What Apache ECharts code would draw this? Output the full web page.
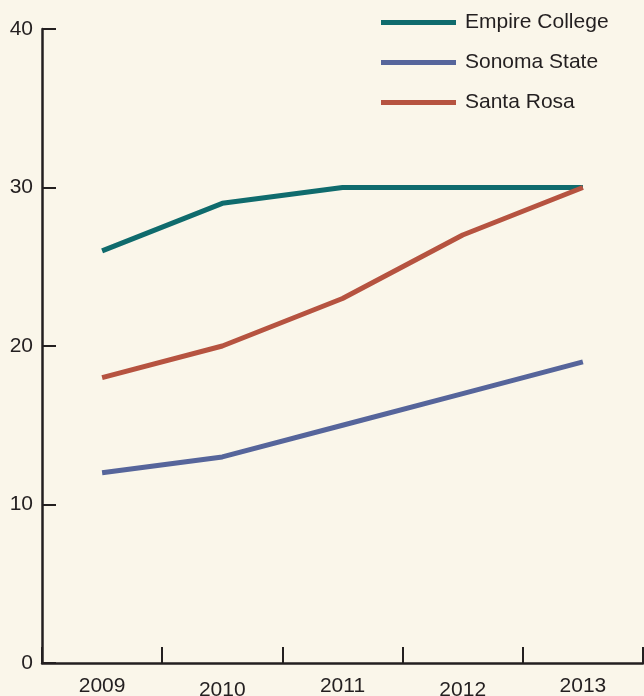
<!DOCTYPE html>
<html>
<head>
<meta charset="utf-8">
<script src="https://cdn.jsdelivr.net/npm/echarts@6/dist/echarts.min.js"></script>
<style>
html,body{margin:0;padding:0;background:#faf6ea;}
#c{width:644px;height:696px;}
</style>
</head>
<body>
<div id="c"></div>
<script>
const years = ['2009', '2010', '2011', '2012', '2013'];
const empireCollege = [26, 29, 30, 30, 30];
const sonomaState = [12, 13, 15, 17, 19];
const santaRosa = [18, 20, 23, 27, 30];
const yTicks = [0, 10, 20, 30, 40];

const chart = echarts.init(document.getElementById('c'), null, {renderer: 'canvas'});
const axisColor = '#231f20';
const font = 'Liberation Sans, Arial, Helvetica, sans-serif';
chart.setOption({
  animation: false,
  backgroundColor: '#faf6ea',
  textStyle: {fontFamily: font},
  grid: {left: 42, right: 1, top: 29, bottom: 33, containLabel: false, outerBoundsMode: 'none'},
  legend: {
    orient: 'vertical',
    left: 376,
    top: 7,
    itemWidth: 75,
    itemHeight: 5,
    itemGap: 19,
    icon: 'rect',
    textStyle: {fontFamily: font, fontSize: 21, color: '#231f20', padding: [0, 0, 0, 4]},
    data: ['Empire College', 'Sonoma State', 'Santa Rosa']
  },
  xAxis: {
    type: 'category',
    data: years,
    boundaryGap: true,
    axisLine: {show: true, lineStyle: {color: axisColor, width: 2.5}},
    axisTick: {show: true, inside: true, length: 16, lineStyle: {color: axisColor, width: 2}},
    axisLabel: {
      margin: 13,
      color: '#231f20',
      fontSize: 21,
      fontFamily: font,
      formatter: function (v, i) { return (i % 2 === 1) ? '{lo|' + v + '}' : '{hi|' + v + '}'; },
      rich: {
        hi: {fontSize: 21, fontFamily: font, color: '#231f20', padding: [0, 0, 0, 0]},
        lo: {fontSize: 21, fontFamily: font, color: '#231f20', padding: [4, 0, 0, 0]}
      }
    },
    splitLine: {show: false}
  },
  yAxis: {
    type: 'value',
    min: yTicks[0],
    max: yTicks[yTicks.length - 1],
    interval: 10,
    axisLine: {show: true, lineStyle: {color: axisColor, width: 2.5}},
    axisTick: {show: true, inside: true, length: 14, lineStyle: {color: axisColor, width: 2}},
    axisLabel: {margin: 9, color: '#231f20', fontSize: 21, fontFamily: font},
    splitLine: {show: false}
  },
  series: [
    {name: 'Empire College', type: 'line', data: empireCollege, symbol: 'none', color: '#0f6b6d', lineStyle: {width: 5, color: '#0f6b6d'}},
    {name: 'Sonoma State', type: 'line', data: sonomaState, symbol: 'none', color: '#56659b', lineStyle: {width: 5, color: '#56659b'}},
    {name: 'Santa Rosa', type: 'line', data: santaRosa, symbol: 'none', color: '#b65340', lineStyle: {width: 5, color: '#b65340'}}
  ]
});
</script>
</body>
</html>
